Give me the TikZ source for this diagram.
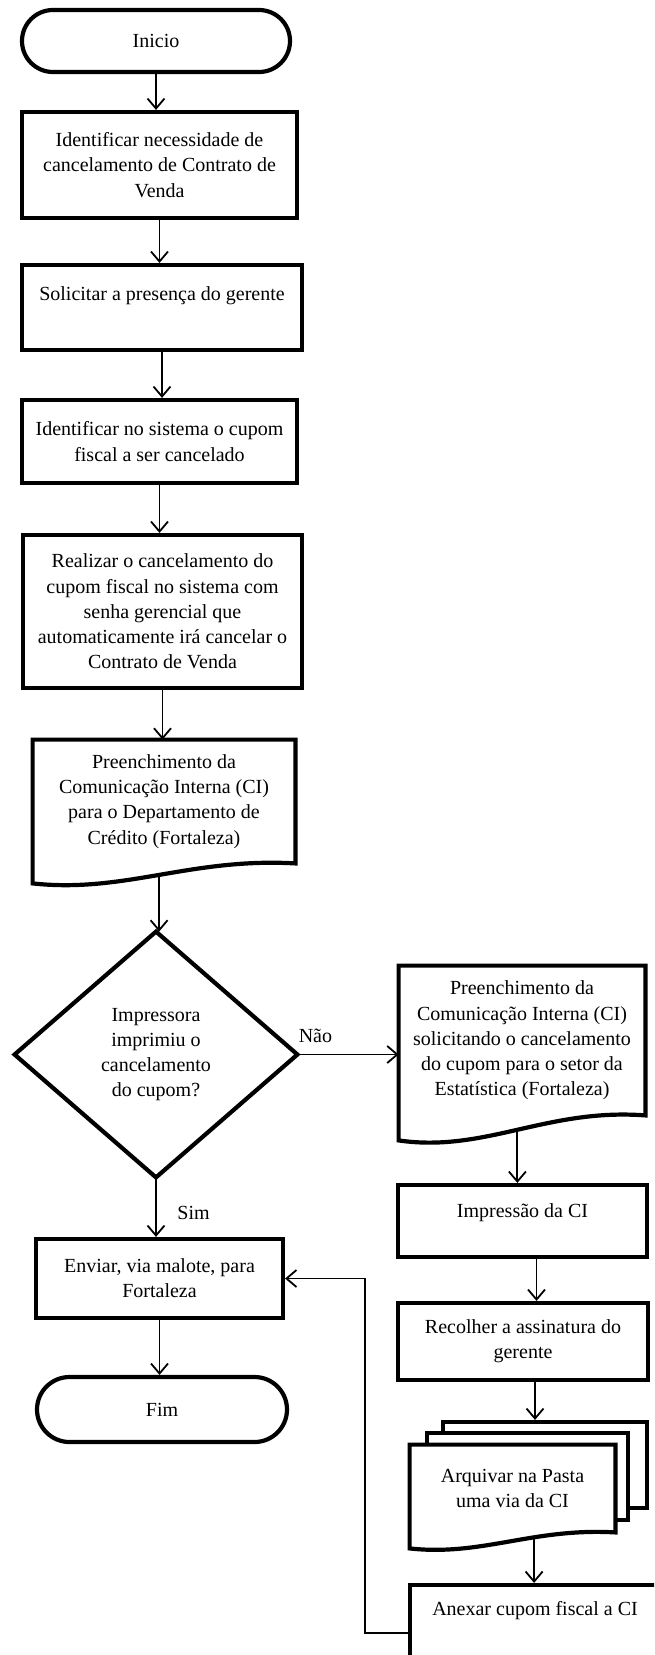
\documentclass[tikz,border=0pt]{standalone}
\usepackage{fontspec}
\setmainfont{Liberation Serif}
\usetikzlibrary{arrows.meta,calc}

\begin{document}
\begin{tikzpicture}[x=0.5pt, y=-0.5pt,
  font=\fontsize{10}{12.6}\selectfont,
  heavy/.style={line width=2.1pt, line join=miter},
  box/.style={draw, heavy, align=center, inner sep=0pt},
  term/.style={box, rounded corners=#1},
  shape text/.style={align=center, inner sep=0pt},
  toptext/.style={text height=7pt, text depth=#1},
  page/.style={draw, heavy, fill=white, inner sep=0pt},
  arr/.style={line width=0.9pt, -{Straight Barb[length=5pt,width=8.5pt]}},
  lbl/.style={inner sep=0pt, anchor=base west}
]
\useasboundingbox (0,0) rectangle (654,1655);
\clip (0,0) rectangle (654,1655);

% ---------- main column ----------
\node[term=15.5pt, minimum width=134pt, minimum height=31pt] (ini) at (156,41) {Inicio};
\node[box, minimum width=137.5pt, minimum height=53pt] (b1) at (159.5,165)
  {Identificar necessidade de\\cancelamento de Contrato de\\Venda};
\node[box, toptext=14.5pt, minimum width=140pt, minimum height=42.5pt] (b2) at (162,307.5)
  {Solicitar a presença do gerente};
\node[box, minimum width=137.5pt, minimum height=41.5pt] (b3) at (159.5,441.5)
  {Identificar no sistema o cupom\\fiscal a ser cancelado};
\node[box, minimum width=139.5pt, minimum height=76.5pt] (b4) at (162.5,611.5)
  {Realizar o cancelamento do\\cupom fiscal no sistema com\\senha gerencial que\\automaticamente irá cancelar o\\Contrato de Venda};

% document shape (wavy bottom)
\node[shape text, minimum width=131pt, minimum height=61.5pt] (d1) at (164,801.5)
  {Preenchimento da\\Comunicação Interna (CI)\\para o Departamento de\\Crédito (Fortaleza)};
\draw[heavy] (d1.north west) -- (d1.north east) -- (d1.south east)
  .. controls ($(d1.south west)!0.6!(d1.south east)+(0,-6)$) and ($(d1.south west)!0.35!(d1.south east)+(0,30)$)
  .. ($(d1.south west)+(0,20)$) coordinate[pos=0.5] (d1out) -- cycle;

% decision
\node[shape text, minimum width=141pt, minimum height=122.5pt] (dia) at (156,1054.5)
  {Impressora\\imprimiu o\\cancelamento\\do cupom?};
\draw[heavy] (dia.north) -- (dia.east) -- (dia.south) -- (dia.west) -- cycle;

\node[box, minimum width=123.5pt, minimum height=39.5pt] (env) at (159.5,1278.5)
  {Enviar, via malote, para\\Fortaleza};
\node[term=16.25pt, minimum width=125pt, minimum height=32.5pt] (fim) at (162,1409.5) {Fim};

% ---------- right column ----------
\node[shape text, minimum width=123pt, minimum height=74.5pt] (d2) at (522,1040.5)
  {Preenchimento da\\Comunicação Interna (CI)\\solicitando o cancelamento\\do cupom para o setor da\\Estatística (Fortaleza)};
\draw[heavy] (d2.north west) -- (d2.north east) -- (d2.south east)
  .. controls ($(d2.south west)!0.6!(d2.south east)+(0,-7.5)$) and ($(d2.south west)!0.35!(d2.south east)+(0,37.5)$)
  .. ($(d2.south west)+(0,25)$) coordinate[pos=0.5] (d2out) -- cycle;

\node[box, toptext=11pt, minimum width=124.5pt, minimum height=36pt] (imp) at (522.5,1221)
  {Impressão da CI};
\node[box, minimum width=125pt, minimum height=38.5pt] (rec) at (523,1341.5)
  {Recolher a assinatura do\\gerente};

% stacked documents
\node[page, minimum width=102pt, minimum height=43pt] (s3) at (545,1465) {};
\node[page, minimum width=100.5pt, minimum height=43.5pt] (s2) at (527.5,1476.5) {};
\node[shape text, fill=white, minimum width=102.5pt, minimum height=43.5pt] (s1) at (512.5,1488.5)
  {Arquivar na Pasta\\uma via da CI};
\draw[heavy] (s1.north west) -- (s1.north east) -- (s1.south east)
  .. controls ($(s1.south west)!0.6!(s1.south east)+(0,-4.8)$) and ($(s1.south west)!0.35!(s1.south east)+(0,24)$)
  .. ($(s1.south west)+(0,16)$) coordinate[pos=0.37] (s1out) -- cycle;

\node[box, toptext=25pt, minimum width=125pt, minimum height=48pt] (anx) at (535,1633)
  {Anexar cupom fiscal a CI};

% ---------- connectors ----------
\draw[arr] (ini.south) -- (ini.south |- b1.north);
\draw[arr] (b1.south) -- (b1.south |- b2.north);
\draw[arr] (b2.south) -- (b2.south |- b3.north);
\draw[arr] (b3.south) -- (b3.south |- b4.north);
\draw[arr] (b4.south) -- (b4.south |- d1.north);
\draw[arr] (d1out) -- (d1out |- dia.north);
\draw[arr] (dia.south) -- (dia.south |- env.north);
\draw[arr] (env.south) -- (env.south |- fim.north);
\draw[arr] (dia.east) -- (dia.east -| d2.west);
\draw[arr] (d2out) -- (d2out |- imp.north);
\draw[arr] ([xshift=7pt]imp.south) -- ([xshift=7pt]imp.south |- rec.north);
\draw[arr] ([xshift=6pt]rec.south) -- ([xshift=6pt]rec.south |- s3.north);
\draw[arr] (s1out) -- (s1out |- anx.north);
\draw[arr] (anx.west) -- ++(-43,0) |- (env.east);

\node[lbl] (nao) at ($(dia.east)+(1,-12)$) {Não};
\node[lbl] (sim) at ($(dia.south)+(21,42)$) {Sim};
\end{tikzpicture}
\end{document}
